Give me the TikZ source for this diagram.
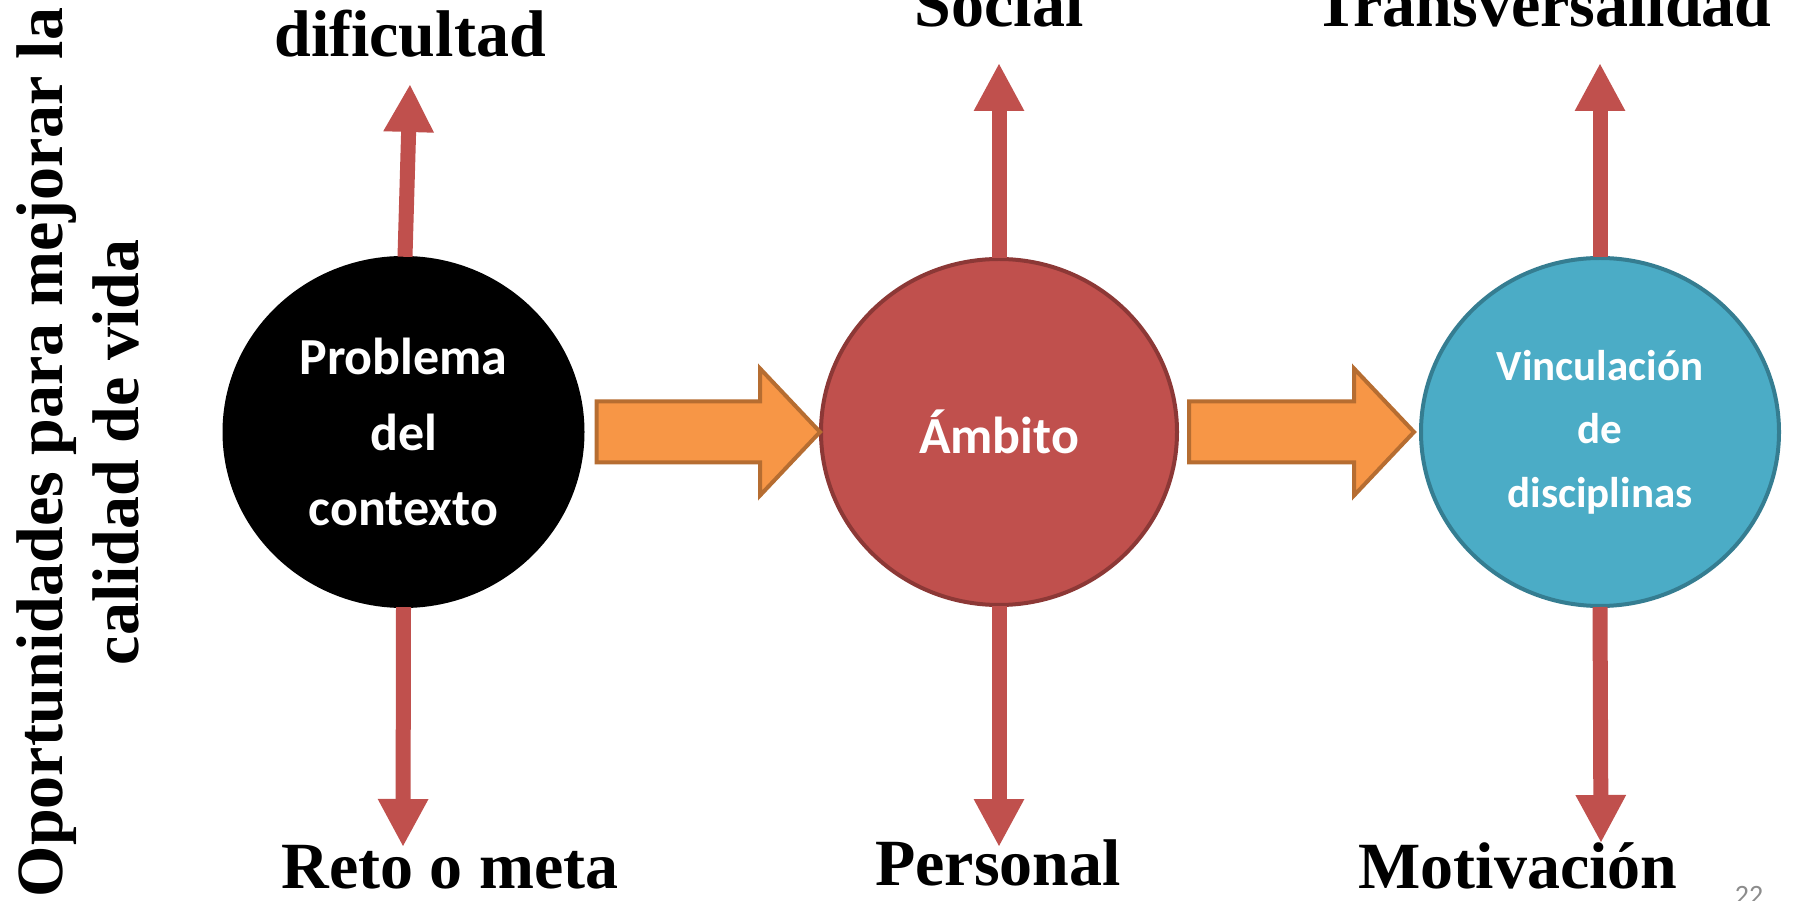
\documentclass[tikz,border=0pt]{standalone}
\usepackage{fontspec}
\setmainfont{Liberation Serif}
\newfontfamily\handfont{Carlito}
\usetikzlibrary{arrows.meta,calc,shapes.geometric}
\definecolor{redfill}{HTML}{C0504D}
\definecolor{redborder}{HTML}{8C3836}
\definecolor{bluefill}{HTML}{4BACC6}
\definecolor{blueborder}{HTML}{357D91}
\definecolor{orangefill}{HTML}{F79646}
\definecolor{orangeborder}{HTML}{B66D31}
\definecolor{arrowred}{HTML}{C0504D}
\definecolor{pagegray}{HTML}{8C8C8C}
\tikzset{
  hub/.style={ellipse, inner sep=0pt, align=center, text=white},
  bigtext/.style={font=\handfont\bfseries\fontsize{52}{75.5}\selectfont},
  smalltext/.style={font=\handfont\bfseries\fontsize{43}{63.5}\selectfont},
  label/.style={anchor=base, inner sep=0pt, font=\bfseries\fontsize{66}{70}\selectfont},
  sidelabel/.style={anchor=base, inner sep=0pt, rotate=90, font=\bfseries\fontsize{66}{70}\selectfont},
  redarrow/.style={draw=arrowred, line width=15pt, -{Triangle[width=47pt,length=48pt]}},
  blockarrow/.style={fill=orangefill, draw=orangeborder, line width=4pt, line join=miter}
}
\begin{document}
\begin{tikzpicture}[x=1pt,y=1pt]
\useasboundingbox (0,0) rectangle (1793,900);
\clip (0,0) rectangle (1793,900);
\fill[white] (0,0) rectangle (1793,900);

% circles
\node[hub, fill=black, minimum width=362pt, minimum height=352pt, bigtext] (c1) at (403.5,468) {Problema\\del\\contexto};
\node[hub, fill=redfill, draw=redborder, line width=4pt, minimum width=356pt, minimum height=346pt, bigtext] (c2) at (999,468) {Ámbito};
\node[hub, fill=bluefill, draw=blueborder, line width=4pt, minimum width=358pt, minimum height=348pt, smalltext] (c3) at (1600,468) {Vinculación\\de\\disciplinas};

% block arrows
\coordinate (b1s) at ($(c1.east)+(12,0)$);
\coordinate (b1t) at ($(c2.west)+(1,0)$);
\draw[blockarrow] ($(b1s)+(0,30.5)$) -- ($(b1t)+(-60,30.5)$) -- ($(b1t)+(-60,63.5)$) -- (b1t)
  -- ($(b1t)+(-60,-63.5)$) -- ($(b1t)+(-60,-30.5)$) -- ($(b1s)+(0,-30.5)$) -- cycle;
\coordinate (b2s) at ($(c2.east)+(10,0)$);
\coordinate (b2t) at ($(c3.west)+(-5,0)$);
\draw[blockarrow] ($(b2s)+(0,30.5)$) -- ($(b2t)+(-60,30.5)$) -- ($(b2t)+(-60,63.5)$) -- (b2t)
  -- ($(b2t)+(-60,-63.5)$) -- ($(b2t)+(-60,-30.5)$) -- ($(b2s)+(0,-30.5)$) -- cycle;

% arrow end points
\coordinate (u1) at (410,816);
\coordinate (u2) at (999,837);
\coordinate (u3) at (1600,837);
\coordinate (d1) at (403,53);
\coordinate (d2) at (999,53);
\coordinate (d3) at (1601,57);

\draw[redarrow] ($(c1.north)+(1.5,-1)$) -- (u1);
\draw[redarrow] ($(c2.north)+(0,-1)$) -- (u2);
\draw[redarrow] ($(c3.north)+(0,-1)$) -- (u3);
\draw[redarrow] ($(c1.south)+(0,1)$) -- (d1);
\draw[redarrow] ($(c2.south)+(0,1)$) -- (d2);
\draw[redarrow] ($(c3.south)+(0,1)$) -- (d3);

% labels
\node[label] (ldif) at (410,843) {dificultad};
\node[label] (lsoc) at (999,873) {Social};
\node[label] (ltra) at (1543,873) {Transversalidad};
\node[label] (lret) at (450,12) {Reto o meta};
\node[label] (lper) at (998,15) {Personal};
\node[label] (lmot) at (1518,12) {Motivación};

% side title
\node[sidelabel] (side1) at (62,447.5) {Oportunidades para mejorar la};
\node[sidelabel] (side2) at (138,447.5) {calidad de vida};

% page number
\node[anchor=base, inner sep=0pt, text=pagegray, font=\handfont\fontsize{28}{30}\selectfont] (pg) at (1749,-4) {22};
\end{tikzpicture}
\end{document}
